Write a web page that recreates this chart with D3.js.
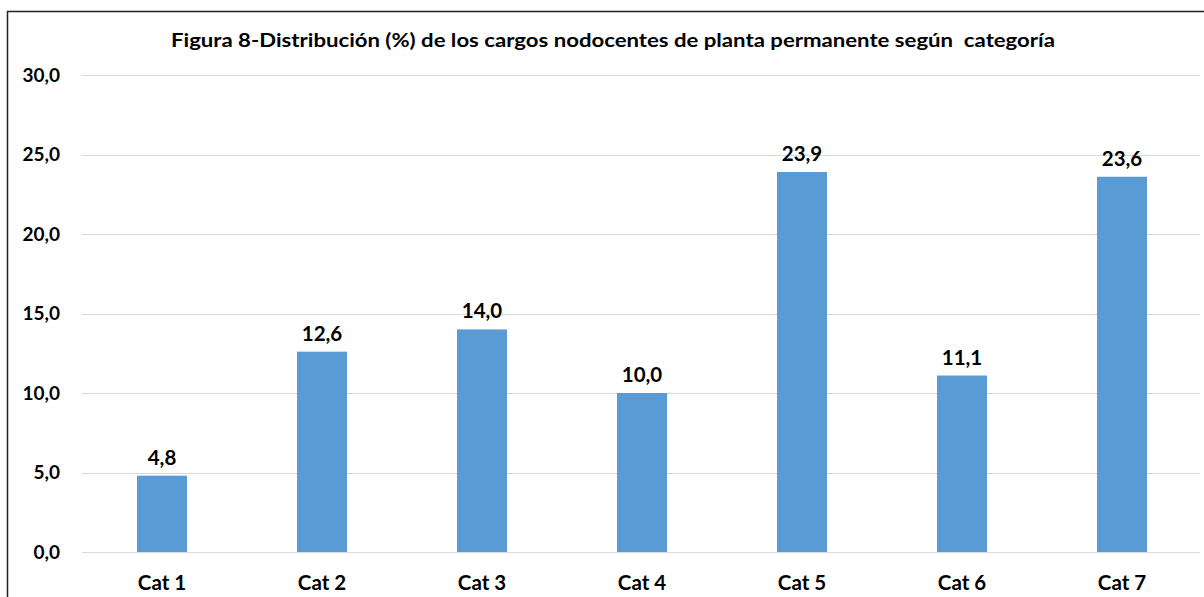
<!DOCTYPE html>
<html>
<head>
<meta charset="utf-8">
<script src="https://cdn.jsdelivr.net/npm/d3@7"></script>
<style>
  body { margin: 0; background: #fff; }
  text { font-family: Lato, "Open Sans", sans-serif; font-weight: bold; fill: #000; }
</style>
</head>
<body>
<svg id="chart" width="1204" height="597"></svg>
<script>
var CATEGORIES = ['Cat 1', 'Cat 2', 'Cat 3', 'Cat 4', 'Cat 5', 'Cat 6', 'Cat 7'];
var VALUES = [4.8, 12.6, 14.0, 10.0, 23.9, 11.1, 23.6];
var Y_TICKS = [0, 5, 10, 15, 20, 25, 30];
var TITLE = 'Figura 8-Distribución (%) de los cargos nodocentes de planta permanente según\u00a0 categoría';

var WIDTH = 1204;
var HEIGHT = 597;

var margin = { top: 75, right: 2, bottom: 45, left: 82 };

var svg = d3.select('#chart');

// outer frame (only left and top visible in the crop)
svg.append('path')
  .attr('d', 'M7.5,' + HEIGHT + ' V11.5 H' + WIDTH)
  .attr('fill', 'none')
  .attr('stroke', '#222')
  .attr('stroke-width', 1.5);

var x = d3.scaleBand()
  .domain(CATEGORIES)
  .range([margin.left, WIDTH - margin.right])
  .paddingInner(0.6875)
  .paddingOuter(0.34375);

var y = d3.scaleLinear()
  .domain([0, 30])
  .range([HEIGHT - margin.bottom, margin.top]);

var fmt = function(v) { return d3.format('.1f')(v).replace('.', ','); };

// gridlines
svg.append('g')
  .selectAll('line')
  .data(Y_TICKS)
  .enter()
  .append('line')
    .attr('x1', margin.left)
    .attr('x2', WIDTH - 4)
    .attr('y1', function(d) { return Math.round(y(d)) + 0.5; })
    .attr('y2', function(d) { return Math.round(y(d)) + 0.5; })
    .attr('stroke', '#d9d9d9')
    .attr('stroke-width', 1.2);

// y tick labels
svg.append('g')
  .selectAll('text')
  .data(Y_TICKS)
  .enter()
  .append('text')
    .attr('x', 60)
    .attr('y', function(d) { return y(d); })
    .attr('dy', '0.35em')
    .attr('text-anchor', 'end')
    .attr('font-size', 19)
    .text(fmt);

// bars
svg.append('g')
  .selectAll('rect')
  .data(VALUES)
  .enter()
  .append('rect')
    .attr('x', function(d, i) { return x(CATEGORIES[i]); })
    .attr('y', function(d) { return y(d); })
    .attr('width', x.bandwidth())
    .attr('height', function(d) { return y(0) - y(d); })
    .attr('fill', '#5b9bd5');

// value labels
svg.append('g')
  .selectAll('text')
  .data(VALUES)
  .enter()
  .append('text')
    .attr('x', function(d, i) { return x(CATEGORIES[i]) + x.bandwidth() / 2; })
    .attr('y', function(d) { return y(d) - 11; })
    .attr('text-anchor', 'middle')
    .attr('font-size', 20.5)
    .text(fmt);

// category labels
svg.append('g')
  .selectAll('text')
  .data(CATEGORIES)
  .enter()
  .append('text')
    .attr('x', function(d) { return x(d) + x.bandwidth() / 2; })
    .attr('y', 590)
    .attr('text-anchor', 'middle')
    .attr('font-size', 20.5)
    .text(function(d) { return d; });

// title
svg.append('text')
  .attr('x', 613)
  .attr('y', 47)
  .attr('text-anchor', 'middle')
  .attr('font-size', 19.5)
  .attr('textLength', 884)
  .attr('lengthAdjust', 'spacingAndGlyphs')
  .text(TITLE);
</script>
</body>
</html>
